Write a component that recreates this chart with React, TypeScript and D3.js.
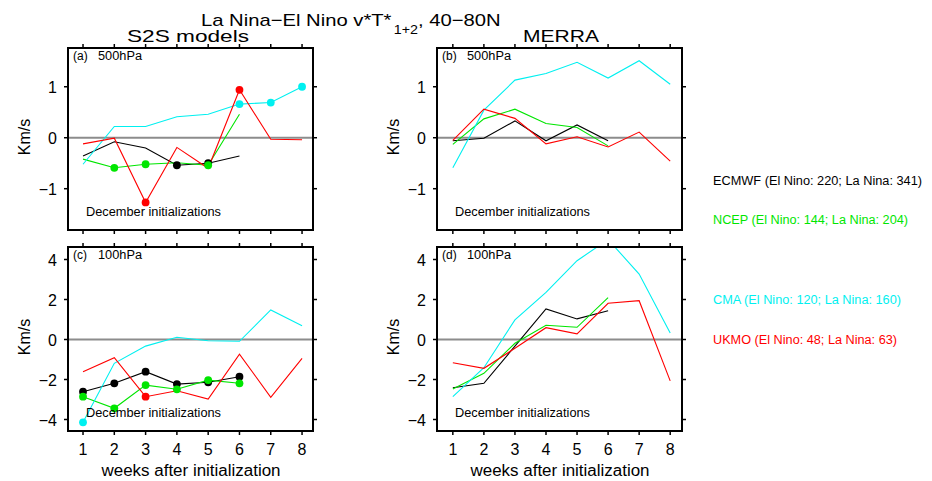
import * as d3 from 'd3'
import React from 'react'

// weeks after initialization
const weeks = [1, 2, 3, 4, 5, 6, 7, 8]

const models = ['ECMWF', 'NCEP', 'CMA', 'UKMO']
const modelColors = ['#000000', '#00e600', '#00f0f0', '#ff0000']
const legendLabels = [
  'ECMWF (El Nino: 220; La Nina: 341)',
  'NCEP (El Nino: 144; La Nina: 204)',
  'CMA (El Nino: 120; La Nina: 160)',
  'UKMO (El Nino: 48; La Nina: 63)',
]

// (a) S2S models, 500hPa
const ecmwfA = [-0.36, -0.08, -0.2, -0.54, -0.5, -0.36]
const ncepA = [-0.42, -0.59, -0.52, -0.49, -0.54, 0.46]
const cmaA = [-0.52, 0.22, 0.22, 0.41, 0.46, 0.66, 0.69, 1.0]
const ukmoA = [-0.12, -0.01, -1.27, -0.19, -0.6, 0.94, -0.03, -0.04]
// weeks that carry a dot
const ecmwfADots = [4, 5]
const ncepADots = [2, 3, 5]
const cmaADots = [6, 7, 8]
const ukmoADots = [3, 6]

// (b) MERRA, 500hPa
const ecmwfB = [-0.06, -0.01, 0.33, -0.06, 0.25, -0.06]
const ncepB = [-0.13, 0.37, 0.56, 0.28, 0.2, -0.16]
const cmaB = [-0.59, 0.54, 1.13, 1.26, 1.48, 1.17, 1.51, 1.05]
const ukmoB = [-0.05, 0.56, 0.38, -0.12, 0.02, -0.18, 0.11, -0.46]

// (c) S2S models, 100hPa
const ecmwfC = [-2.61, -2.19, -1.61, -2.23, -2.14, -1.86]
const ncepC = [-2.86, -3.44, -2.28, -2.49, -2.03, -2.19]
const cmaC = [-4.14, -1.19, -0.33, 0.11, -0.06, -0.09, 1.48, 0.69]
const ukmoC = [-1.61, -0.91, -2.86, -2.56, -2.98, -0.73, -2.89, -0.94]
const ecmwfCDots = [1, 2, 3, 4, 5, 6]
const ncepCDots = [1, 2, 3, 4, 5, 6]
const cmaCDots = [1]
const ukmoCDots = [3]

// (d) MERRA, 100hPa
const ecmwfD = [-2.41, -2.19, -0.33, 1.53, 1.03, 1.44]
const ncepD = [-2.48, -1.69, -0.19, 0.71, 0.61, 2.09]
const cmaD = [-2.86, -1.41, 0.98, 2.36, 3.94, 5.0, 3.27, 0.32]
const ukmoD = [-1.16, -1.44, -0.44, 0.59, 0.28, 1.81, 1.94, -2.07]

const ticks500 = [-1, 0, 1]
const ticks100 = [-4, -2, 0, 2, 4]

const font = 'Liberation Sans, Arial, Helvetica, sans-serif'

const panels = [
  { id: 'a', label: '(a)', level: '500hPa', x0: 68, x1: 313, y0: 48, y1: 230, xd: [0.52, 8.35], yd: [-1.81, 1.76], ticks: ticks500,
    series: [ecmwfA, ncepA, cmaA, ukmoA], dots: [ecmwfADots, ncepADots, cmaADots, ukmoADots], xlab: false },
  { id: 'b', label: '(b)', level: '500hPa', x0: 437, x1: 682, y0: 48, y1: 230, xd: [0.49, 8.38], yd: [-1.81, 1.76], ticks: ticks500,
    series: [ecmwfB, ncepB, cmaB, ukmoB], dots: [[], [], [], []], xlab: false },
  { id: 'c', label: '(c)', level: '100hPa', x0: 68, x1: 313, y0: 247, y1: 431, xd: [0.52, 8.35], yd: [-4.575, 4.625], ticks: ticks100,
    series: [ecmwfC, ncepC, cmaC, ukmoC], dots: [ecmwfCDots, ncepCDots, cmaCDots, ukmoCDots], xlab: true },
  { id: 'd', label: '(d)', level: '100hPa', x0: 437, x1: 682, y0: 247, y1: 431, xd: [0.49, 8.38], yd: [-4.575, 4.625], ticks: ticks100,
    series: [ecmwfD, ncepD, cmaD, ukmoD], dots: [[], [], [], []], xlab: true },
]

function Panel({ p }: { p: any }) {
  const x = d3.scaleLinear().domain(p.xd).range([p.x0, p.x1])
  const y = d3.scaleLinear().domain(p.yd).range([p.y1, p.y0])
  const line = d3.line<number>().x((d, i) => x(weeks[i])).y(d => y(d))
  const tl = 4
  return (
    <g>
      <defs>
        <clipPath id={'clip-' + p.id}>
          <rect x={p.x0} y={p.y0} width={p.x1 - p.x0} height={p.y1 - p.y0} />
        </clipPath>
      </defs>
      {/* zero line */}
      <line x1={p.x0} x2={p.x1} y1={y(0)} y2={y(0)} stroke="#8c8c8c" strokeWidth={2} />
      <g clipPath={`url(#clip-${p.id})`}>
        {p.series.map((s: number[], k: number) => (
          <path key={k} d={line(s) || ''} fill="none" stroke={modelColors[k]} strokeWidth={1.1} />
        ))}
        {p.series.map((s: number[], k: number) =>
          p.dots[k].map((w: number) => (
            <circle key={k + '-' + w} cx={x(w)} cy={y(s[w - 1])} r={3.9} fill={modelColors[k]} />
          ))
        )}
      </g>
      {/* frame */}
      <rect x={p.x0} y={p.y0} width={p.x1 - p.x0} height={p.y1 - p.y0} fill="none" stroke="#000" strokeWidth={2} />
      {/* ticks */}
      {weeks.map(w => (
        <g key={'xt' + w}>
          <line x1={x(w)} x2={x(w)} y1={p.y1} y2={p.y1 + tl} stroke="#000" strokeWidth={1.5} />
          <line x1={x(w)} x2={x(w)} y1={p.y0} y2={p.y0 - tl} stroke="#000" strokeWidth={1.5} />
          {p.xlab && (
            <text x={x(w)} y={455} textAnchor="middle" fontSize={16} fontFamily={font}>{w}</text>
          )}
        </g>
      ))}
      {p.ticks.map((t: number) => (
        <g key={'yt' + t}>
          <line x1={p.x0 - tl} x2={p.x0} y1={y(t)} y2={y(t)} stroke="#000" strokeWidth={1.5} />
          <line x1={p.x1} x2={p.x1 + tl} y1={y(t)} y2={y(t)} stroke="#000" strokeWidth={1.5} />
          <text x={p.x0 - 11} y={y(t) + 6} textAnchor="end" fontSize={16} fontFamily={font}>
            {t < 0 ? '\u2212' + Math.abs(t) : String(t)}
          </text>
        </g>
      ))}
      <text transform={`translate(${p.x0 - 38},${(p.y0 + p.y1) / 2 - 2}) rotate(-90)`} textAnchor="middle" fontSize={16} fontFamily={font}>Km/s</text>
      <text x={p.x0 + 5} y={p.y0 + 12} fontSize={12} fontFamily={font}>{p.label}</text>
      <text x={p.x0 + 30} y={p.y0 + 12} fontSize={12} fontFamily={font} textLength={44} lengthAdjust="spacingAndGlyphs">{p.level}</text>
      <text x={p.x0 + 18} y={p.y1 - 14} fontSize={12.5} fontFamily={font} textLength={135} lengthAdjust="spacingAndGlyphs">December initializations</text>
      {p.xlab && (
        <text x={(p.x0 + p.x1) / 2 - 89} y={476} fontSize={16} fontFamily={font} textLength={179} lengthAdjust="spacingAndGlyphs">weeks after initialization</text>
      )}
    </g>
  )
}

export default function App() {
  const legendY = [185, 224, 304, 344]
  const legendW = [209, 195, 188, 184]
  return (
    <svg width={932} height={481} style={{ display: 'block', position: 'absolute', left: 0, top: 0, background: '#fff' }}>
      <rect width={932} height={481} fill="#fff" />
      {/* title, stretched horizontally like the original */}
      <text transform="translate(201,26) scale(1.19,1)" fontSize={17} fontFamily={font}>
        La Nina{'\u2212'}El Nino v*T*
        <tspan fontSize={12} dx={2} dy={8}>1+2</tspan>
        <tspan dy={-8}>, 40{'\u2212'}80N</tspan>
      </text>
      <text x={127} y={42} fontSize={17} fontFamily={font} textLength={122} lengthAdjust="spacingAndGlyphs">S2S models</text>
      <text x={523} y={42} fontSize={17} fontFamily={font} textLength={76} lengthAdjust="spacingAndGlyphs">MERRA</text>
      {panels.map(p => <Panel key={p.id} p={p} />)}
      {models.map((m, k) => (
        <text key={m} x={713} y={legendY[k]} fontSize={12} fontFamily={font} fill={modelColors[k]}
          textLength={legendW[k]} lengthAdjust="spacingAndGlyphs">{legendLabels[k]}</text>
      ))}
    </svg>
  )
}
